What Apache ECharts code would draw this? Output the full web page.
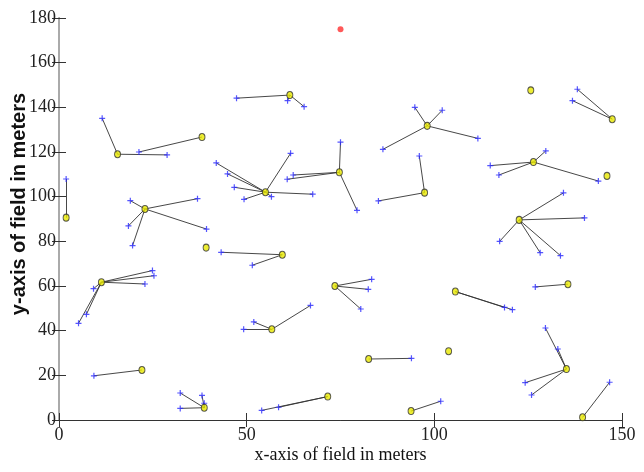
<!DOCTYPE html>
<html>
<head>
<meta charset="utf-8">
<script src="https://cdn.jsdelivr.net/npm/echarts@6/dist/echarts.min.js"></script>
<style>
  html, body { margin: 0; padding: 0; background: #fff; }
  #chart { width: 644px; height: 472px; }
</style>
</head>
<body>
<div id="chart"></div>
<script>
// cluster heads
var headX = [15.6, 38.1, 1.9, 22.9, 61.5, 55.0, 74.7, 97.4, 98.1, 125.7, 147.4, 126.4, 146.0, 122.6, 39.2,
             59.5, 11.3, 56.7, 22.1, 38.7, 71.6, 73.5, 105.6, 135.6, 82.5, 103.8, 135.2, 93.8, 139.5]
var headY = [119.0, 126.7, 90.6, 94.5, 145.5, 102.0, 110.9, 101.8, 131.7, 147.6, 134.7, 115.5, 109.3, 89.6, 77.2,
             74.0, 61.7, 40.6, 22.4, 5.5, 10.5, 60.0, 57.5, 60.8, 27.3, 30.8, 22.8, 4.0, 1.2]

// member nodes and the head (index) each one joins
var nodeX = [11.5, 28.8, 21.3, 1.9, 19.0, 18.5, 36.9, 39.3, 19.6, 47.3, 60.9, 65.3,
             41.9, 44.9, 46.7, 49.3, 56.6, 61.7, 67.6, 60.8, 62.4, 75.0, 79.4, 96.0, 85.1,
             94.8, 102.1, 86.3, 111.6, 138.1, 136.8, 129.7, 114.9, 117.2, 143.7,
             134.4, 140.0, 117.4, 128.2, 133.6, 43.2, 51.5, 24.9, 25.3, 22.9, 9.2, 7.3, 5.2,
             49.2, 51.9, 67.0, 9.3, 32.3, 38.1, 38.7, 32.3, 54.0, 58.5, 83.3, 82.4, 80.4,
             118.7, 120.8, 126.9, 93.9, 129.6, 132.9, 124.2, 125.9, 101.7, 146.7]
var nodeY = [135.1, 118.7, 120.0, 107.9, 98.2, 86.9, 99.1, 85.5, 78.1, 144.1, 143.0, 140.3,
             115.1, 110.2, 104.2, 98.8, 100.0, 119.4, 101.1, 107.8, 109.7, 124.4, 93.9, 118.2, 98.1,
             140.0, 138.7, 121.2, 126.1, 148.1, 143.0, 120.5, 113.9, 109.7, 107.0,
             101.7, 90.5, 80.0, 74.9, 73.6, 75.1, 69.3, 66.9, 64.6, 60.9, 58.8, 47.3, 43.3,
             40.6, 43.9, 51.3, 19.8, 12.1, 11.0, 7.5, 5.2, 4.3, 5.7, 63.0, 58.5, 49.7,
             50.4, 49.4, 59.6, 27.6, 41.2, 31.8, 16.7, 11.2, 8.4, 16.9]
var nodeHead = [0, 0, 1, 2, 3, 3, 3, 3, 3, 4, 4, 4,
                5, 5, 5, 5, 5, 5, 5, 6, 6, 6, 6, 7, 7,
                8, 8, 8, 8, 10, 10, 11, 11, 11, 11,
                13, 13, 13, 13, 13, 15, 15, 16, 16, 16, 16, 16, 16,
                17, 17, 17, 18, 19, 19, 19, 19, 20, 20, 21, 21, 21,
                22, 22, 23, 24, 26, 26, 26, 26, 27, 28]

var sinkX = [75]
var sinkY = [175]

var xTicks = [0, 50, 100, 150]
var yTicks = [0, 20, 40, 60, 80, 100, 120, 140, 160, 180]

var chart = echarts.init(document.getElementById('chart'))

var links = nodeX.map(function (x, i) {
  var h = nodeHead[i]
  return { coords: [[x, nodeY[i]], [headX[h], headY[h]]] }
})
var heads = headX.map(function (x, i) { return [x, headY[i]] })
var nodes = nodeX.map(function (x, i) { return [x, nodeY[i]] })
var sink = sinkX.map(function (x, i) { return [x, sinkY[i]] })

var serif = 'Liberation Serif, Times New Roman, serif'
var tickLabel = { color: '#222', fontFamily: serif, fontSize: 18 }

chart.setOption({
  animation: false,
  grid: { left: 59, top: 18, right: 22, bottom: 52, outerBoundsMode: 'none' },
  xAxis: [
    {
      type: 'value', min: 0, max: 150, interval: 50,
      name: 'x-axis of field in meters', nameLocation: 'middle', nameGap: 26, nameMoveOverlap: false,
      nameTextStyle: { color: '#111', fontFamily: serif, fontSize: 18 },
      axisLine: { lineStyle: { color: '#333', width: 1 } },
      axisTick: { inside: true, length: 7, lineStyle: { color: '#333' } },
      axisLabel: Object.assign({ margin: 6, formatter: function (v) { return xTicks.indexOf(v) >= 0 ? v : '' } }, tickLabel),
      splitLine: { show: false }
    },
    {
      type: 'value', position: 'top', min: 0, max: 150, interval: 50,
      axisLine: { show: true, lineStyle: { color: '#333', width: 1 } },
      axisTick: { inside: true, length: 7, lineStyle: { color: '#333' } },
      axisLabel: { show: false }, splitLine: { show: false }
    }
  ],
  yAxis: [
    {
      type: 'value', min: 0, max: 180, interval: 20,
      name: 'y-axis of field in meters', nameLocation: 'middle', nameGap: 30, nameRotate: 90, nameMoveOverlap: false,
      nameTextStyle: { color: '#111', fontFamily: 'Liberation Sans, Arial, sans-serif', fontSize: 20, fontWeight: 'bold', padding: [0, 0, 0, 30] },
      axisLine: { show: true, lineStyle: { color: '#333', width: 1 } },
      axisTick: { inside: true, length: 7, lineStyle: { color: '#333' } },
      axisLabel: Object.assign({ margin: 3, formatter: function (v) { return yTicks.indexOf(v) >= 0 ? v : '' } }, tickLabel),
      splitLine: { show: false }
    },
    {
      type: 'value', position: 'right', min: 0, max: 180, interval: 20,
      axisLine: { show: true, lineStyle: { color: '#aaa', width: 2 } },
      axisTick: { inside: true, length: 7, lineStyle: { color: '#333' } },
      axisLabel: { show: false }, splitLine: { show: false }
    }
  ],
  series: [
    {
      type: 'lines', coordinateSystem: 'cartesian2d',
      lineStyle: { color: '#333', width: 1, opacity: 0.9 },
      data: links, z: 2
    },
    {
      type: 'scatter', data: nodes,
      symbol: 'path://M4,0H6V4H10V6H6V10H4V6H0V4H4Z', symbolSize: 6,
      itemStyle: { color: '#2a2aff' }, z: 3
    },
    {
      type: 'scatter', data: heads,
      symbol: 'circle', symbolSize: [6, 7],
      itemStyle: { color: '#e8e800', borderColor: '#333', borderWidth: 1 }, z: 4
    },
    {
      type: 'scatter', data: sink,
      symbol: 'circle', symbolSize: 6,
      itemStyle: { color: '#ff3030' }, z: 4
    }
  ]
})

window.addEventListener('resize', function () {
  chart.resize()
})
</script>
</body>
</html>
